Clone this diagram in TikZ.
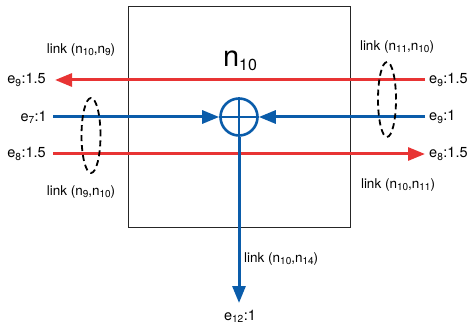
\documentclass[tikz,border=0pt]{standalone}
\usepackage{fontspec}
\setmainfont{TeX Gyre Heros}
\usetikzlibrary{arrows.meta,shapes.geometric}
\definecolor{myred}{RGB}{232,52,52}
\definecolor{myblue}{RGB}{10,92,170}
\tikzset{
  redline/.style={draw=myred,line width=3pt},
  blueline/.style={draw=myblue,line width=3pt},
  tip/.style={-{Triangle[length=17pt,width=13pt]}},
  lbl/.style={font=\fontsize{13.5}{15}\selectfont,inner sep=0pt},
  elab/.style={font=\fontsize{14.5}{16}\selectfont,inner sep=0pt},
  ell/.style={draw=black,line width=1.8pt,dash pattern=on 6pt off 4pt}
}
\newcommand{\sbs}[1]{\textsubscript{#1}}
\newcommand{\lsb}[1]{\raisebox{-2.5pt}{\fontsize{10}{10}\selectfont #1}}
\begin{document}
\begin{tikzpicture}[x=1pt,y=-1pt]
\useasboundingbox (0,0) rectangle (469,326);
% box
\node[draw=black!85,line width=1pt,minimum width=222pt,minimum height=221pt,inner sep=0pt] (box) at (239,117.5) {};
\node[font=\fontsize{29}{32}\selectfont,inner sep=0pt] (title) at (240,61) {n{\fontsize{16}{16}\selectfont\raisebox{-4pt}{10}}};
% summing node
\node[draw=myblue,line width=2.6pt,circle,minimum size=37pt,inner sep=0pt] (sum) at (239,117) {};
\draw[myblue,line width=2.6pt] (sum.north) -- (sum.south);
\draw[myblue,line width=2.6pt] (sum.west) -- (sum.east);
% endpoints
\coordinate (rtR) at (425,80);
\coordinate (rtL) at (55,80);
\coordinate (blL) at (53,117);
\coordinate (blR) at (425,117);
\coordinate (rbL) at (53,154);
\coordinate (rbR) at (425,154);
\coordinate (bot) at (239,303);
% lines
\draw[redline,tip] (rtR) -- (rtL);
\draw[redline,tip] (rbL) -- (rbR);
\draw[blueline,tip] (blL) -- (sum.west);
\draw[blueline,tip] (blR) -- (sum.east);
\draw[blueline,tip] (sum.south) -- (bot);
% ellipses
\node[ell,ellipse,minimum width=19pt,minimum height=75pt,inner sep=0pt] (elL) at (91,135.5) {};
\node[ell,ellipse,minimum width=18pt,minimum height=75pt,inner sep=0pt] (elR) at (387,99.5) {};
% end labels
\node[elab,anchor=east] (lrt) at (46,80) {e\sbs{9}:1.5};
\node[elab,anchor=east] (lbl) at (47,117) {e\sbs{7}:1};
\node[elab,anchor=east] (lrb) at (46,154) {e\sbs{8}:1.5};
\node[elab,anchor=west] (rrt) at (429,80) {e\sbs{9}:1.5};
\node[elab,anchor=west] (rbl) at (429,117) {e\sbs{9}:1};
\node[elab,anchor=west] (rrb) at (429,154) {e\sbs{8}:1.5};
\node[elab] (lbot) at (240,316) {e\sbs{12}:1};
% link labels
\node[lbl] (k1) at (81,50) {link (n\lsb{10},n\lsb{9})};
\node[lbl] (k2) at (81,192) {link (n\lsb{9},n\lsb{10})};
\node[lbl] (k3) at (397,47) {link (n\lsb{11},n\lsb{10})};
\node[lbl] (k4) at (398,185) {link (n\lsb{10},n\lsb{11})};
\node[lbl,anchor=west] (k5) at (244,259) {link (n\lsb{10},n\lsb{14})};
\end{tikzpicture}
\end{document}
